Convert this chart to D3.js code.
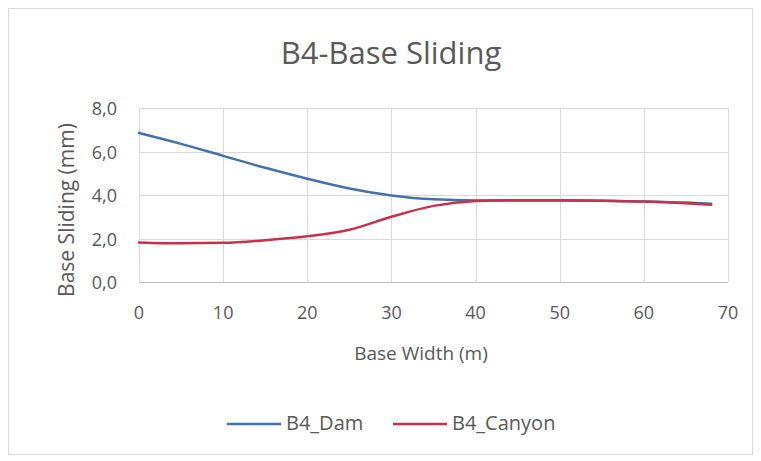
<!DOCTYPE html>
<html>
<head>
<meta charset="utf-8">
<script src="https://cdn.jsdelivr.net/npm/d3@7"></script>
<style>
  body { margin: 0; background: #fff; }
  text { font-family: "Open Sans", "DejaVu Sans", sans-serif; fill: #595959; }
</style>
</head>
<body>
<div id="chart"></div>
<script>
// base width (m)
var damX = [0, 5, 10, 15, 20, 25, 30, 35, 40, 45, 50, 55, 60, 65, 68]
var damY = [6.85, 6.35, 5.8, 5.25, 4.75, 4.3, 3.98, 3.8, 3.75, 3.75, 3.75, 3.74, 3.7, 3.65, 3.6]
var canyonX = [0, 5, 10, 15, 20, 25, 30, 35, 40, 45, 50, 55, 60, 65, 68]
var canyonY = [1.82, 1.78, 1.8, 1.92, 2.1, 2.4, 3.0, 3.5, 3.72, 3.76, 3.76, 3.74, 3.7, 3.62, 3.55]
var xTicks = [0, 10, 20, 30, 40, 50, 60, 70]
var yTicks = [0, 2, 4, 6, 8]
var series = [
  {name: 'B4_Dam', xs: damX, ys: damY, color: '#4472a8'},
  {name: 'B4_Canyon', xs: canyonX, ys: canyonY, color: '#c8304c'}
]

var width = 761, height = 461
var loc = d3.formatLocale({decimal: ',', thousands: '.', grouping: [3], currency: ['', '']})
var fmt = loc.format('.1f')

var svg = d3.select('#chart').append('svg').attr('width', width).attr('height', height)

svg.append('rect').attr('x', 8.5).attr('y', 8.5).attr('width', 744).attr('height', 446)
  .attr('fill', '#fff').attr('stroke', '#d9d9d9')

var x = d3.scaleLinear().domain([0, 70]).range([139, 728])
var y = d3.scaleLinear().domain([0, 8]).range([282, 108])

// gridlines
svg.append('g').selectAll('line').data(yTicks).join('line')
  .attr('x1', x(0)).attr('x2', x(70))
  .attr('y1', d => Math.round(y(d)) + 0.5).attr('y2', d => Math.round(y(d)) + 0.5)
  .attr('stroke', d => d == 0 ? '#bfbfbf' : '#d9d9d9').attr('stroke-width', 1)

svg.append('g').selectAll('line').data(xTicks.filter(d => d > 0)).join('line')
  .attr('x1', d => Math.round(x(d)) + 0.5).attr('x2', d => Math.round(x(d)) + 0.5)
  .attr('y1', y(8)).attr('y2', y(0))
  .attr('stroke', '#d9d9d9').attr('stroke-width', 1)

// y axis line
svg.append('line').attr('x1', x(0) + 0.5).attr('x2', x(0) + 0.5).attr('y1', y(8)).attr('y2', y(0))
  .attr('stroke', '#d9d9d9')

// tick labels
svg.append('g').selectAll('text').data(yTicks).join('text')
  .attr('x', 117).attr('y', d => y(d) + 7)
  .attr('text-anchor', 'end').attr('font-size', 18)
  .text(d => fmt(d))

svg.append('g').selectAll('text').data(xTicks).join('text')
  .attr('x', d => x(d)).attr('y', 319)
  .attr('text-anchor', 'middle').attr('font-size', 18)
  .text(d => d)

// lines
var line = d3.line().curve(d3.curveMonotoneX)
series.forEach(function(s) {
  var pts = s.xs.map(function(v, i) { return [x(v), y(s.ys[i])] })
  svg.append('path').attr('d', line(pts))
    .attr('fill', 'none').attr('stroke', s.color).attr('stroke-width', 2.5)
    .attr('stroke-linecap', 'round')
})

// titles
svg.append('text').attr('x', 391).attr('y', 64).attr('text-anchor', 'middle')
  .attr('font-size', 31).text('B4-Base Sliding')

svg.append('text').attr('x', 421).attr('y', 360).attr('text-anchor', 'middle')
  .attr('font-size', 19).text('Base Width (m)')

svg.append('text').attr('transform', 'translate(74,210) rotate(-90)')
  .attr('text-anchor', 'middle').attr('font-size', 21).text('Base Sliding (mm)')

// legend
var legendX = [227, 393]
series.forEach(function(s, i) {
  var g = svg.append('g').attr('transform', 'translate(' + legendX[i] + ',424)')
  g.append('line').attr('x1', 0).attr('x2', 54).attr('y1', 0).attr('y2', 0)
    .attr('stroke', s.color).attr('stroke-width', 2.5)
  g.append('text').attr('x', 59).attr('y', 6).attr('font-size', 20).text(s.name)
})
</script>
</body>
</html>
